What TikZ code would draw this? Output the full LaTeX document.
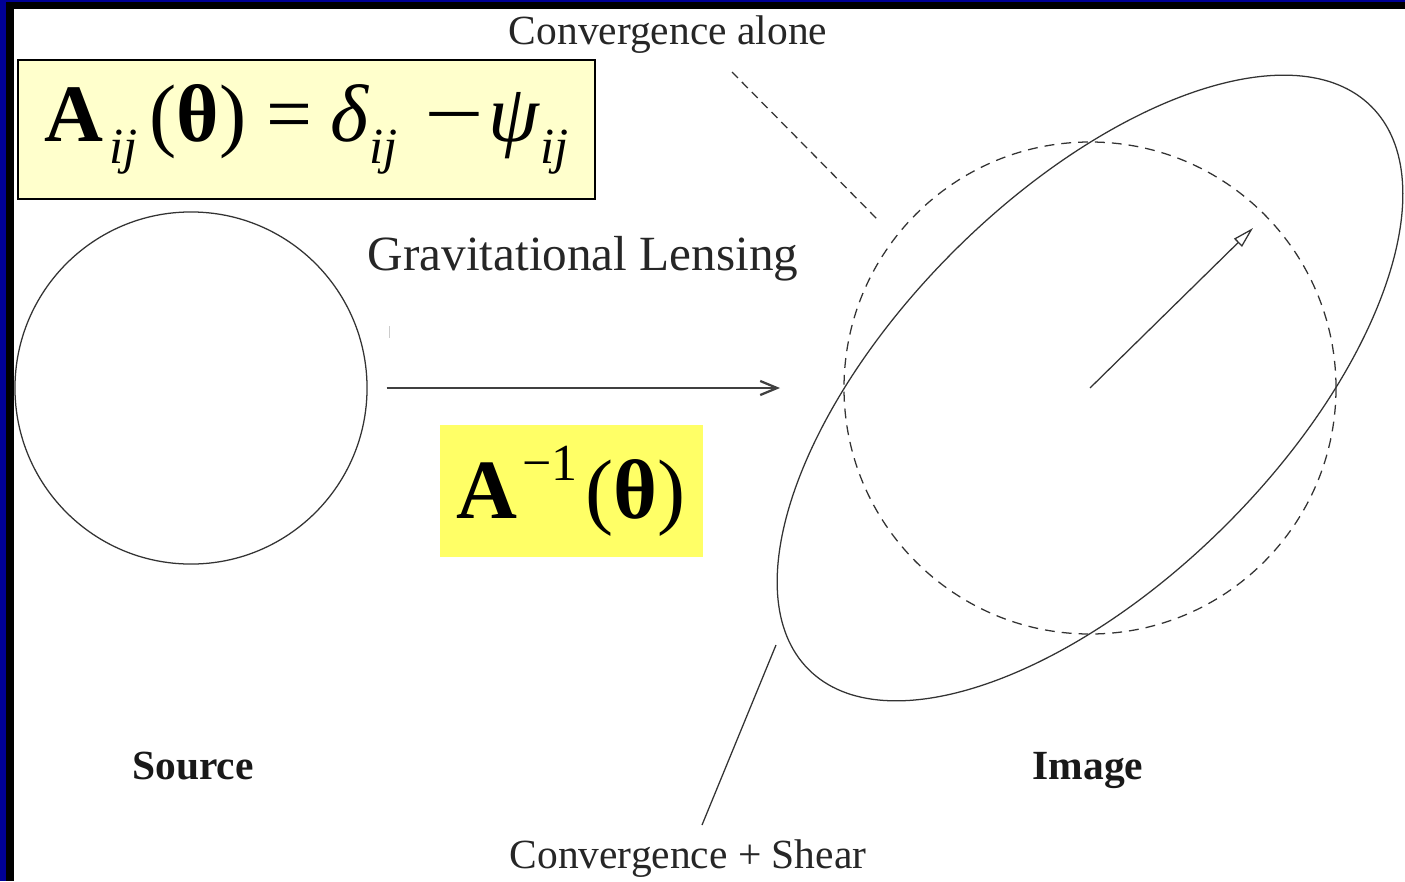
\documentclass[tikz,border=0pt]{standalone}
\usepackage{fontspec}
\setmainfont{Liberation Serif}
\usepackage{graphicx}
\usepackage{xcolor}
\usepackage{tikz}
\usetikzlibrary{arrows.meta,positioning}
\definecolor{slideblue}{RGB}{0,0,150}
\definecolor{paleyellow}{RGB}{255,255,204}
\definecolor{hiyellow}{RGB}{255,255,102}
\newcommand{\lowij}{\raisebox{-16pt}{\fontsize{36}{36}\selectfont\itshape ij}}

\begin{document}
\begin{tikzpicture}[x=0.025cm,y=-0.025cm,
  thinline/.style={line width=0.9pt,black!80},
  txt/.style={font=\fontsize{29.5}{32}\selectfont,text=black!85,inner sep=0pt},
  btxt/.style={font=\fontsize{29.5}{32}\selectfont\bfseries,text=black!90,inner sep=0pt,anchor=base},
  arr/.style={-{Straight Barb[length=12pt,width=10pt]},line width=1.6pt,black!75},
  eqbox/.style={draw,line width=1.4pt,fill=paleyellow,minimum width=14.425cm,minimum height=3.475cm,inner sep=0pt},
  hibox/.style={fill=hiyellow,minimum width=6.575cm,minimum height=3.3cm,inner sep=0pt}
]
  \useasboundingbox (0,0) rectangle (1405,881);
  \fill[white] (0,0) rectangle (1405,881);
  % slide frame
  \fill[slideblue] (0,0) rectangle (6,881);
  \fill[slideblue] (0,0) rectangle (1405,2);
  \fill[black] (6,2) rectangle (14,881);
  \fill[black] (6,2) rectangle (1405,9);

  % formulas
  \node[eqbox] (jacobian) at (306.5,129.5) {\fontsize{58}{62}\selectfont
    \textbf{A}\hspace{4pt}\lowij\hspace{9pt}(\textbf{θ})\hspace{14pt}=\hspace{13pt}\textit{δ}\lowij\hspace{19pt}\scalebox{1.3}[1]{−}\hspace{3pt}\textit{ψ}\lowij};
  \node[hibox] (inverse) at (571.5,491) {\fontsize{60}{64}\selectfont
    \textbf{A}\hspace{3pt}\raisebox{27pt}{\fontsize{37}{37}\selectfont −1}\hspace{6pt}(\textbf{θ})};

  % source
  \node[circle,draw,thinline,minimum size=8.8cm,inner sep=0pt] (source) at (191,388) {};
  \node[btxt] (srclabel) at (193,779) {Source};

  % lensing arrow
  \coordinate (lensend) at (780,388);
  \draw[arr] ([xshift=0.475cm]source.east) -- (lensend);
  \draw[gray!40,line width=0.6pt] (389,326) -- (389,338);
  \node[txt,font=\fontsize{35}{38}\selectfont] (lensing) at (583,259) {Gravitational Lensing};

  % image
  \coordinate (imgc) at (1090,388);
  \draw[thinline,dash pattern=on 7pt off 5pt] (imgc) circle[radius=246];
  \draw[thinline,rotate around={45:(imgc)}] (imgc) ellipse[x radius=398,y radius=193];
  \coordinate (sheartip) at (1253,228);
  \draw[thinline,-{Triangle[open,length=15pt,width=8pt]}] (imgc) -- (sheartip);
  \node[btxt] (imglabel) at (1088,779) {Image};

  % pointers
  \node[txt] (alone) at (668,35) {Convergence alone};
  \coordinate (alonefrom) at (732,72);
  \coordinate (aloneto) at (878,220);
  \draw[thinline,dash pattern=on 6pt off 4pt] (alonefrom) -- (aloneto);
  \node[txt] (both) at (688,859) {Convergence + Shear};
  \coordinate (bothfrom) at (702,825);
  \coordinate (bothto) at (776,645);
  \draw[thinline] (bothfrom) -- (bothto);
\end{tikzpicture}
\end{document}
